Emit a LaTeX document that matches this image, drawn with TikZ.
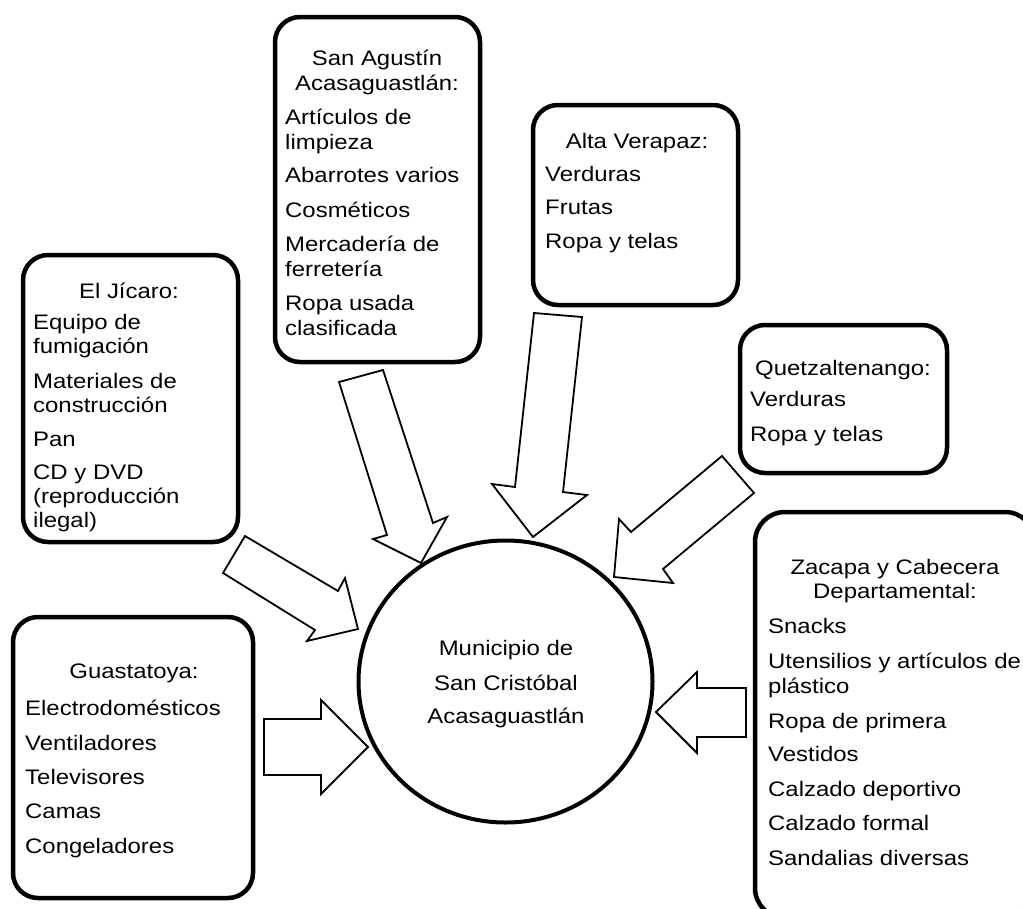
\documentclass[tikz,border=0pt]{standalone}
\usepackage{fontspec}
\setmainfont{Liberation Sans}[FakeStretch=1.14]
\usetikzlibrary{shapes.geometric}
\begin{document}
\begin{tikzpicture}[x=1pt,y=-1pt,
  every node/.style={font=\fontsize{21}{24}\selectfont},
  box/.style={draw, line width=4.5pt, rounded corners=25pt, inner sep=0pt},
  blockarrow/.style={draw, line width=1.8pt, fill=white, line join=miter},
  hub/.style={draw, ellipse, line width=4pt, inner sep=0pt},
  item/.style={anchor=base west, inner sep=0pt},
  ttl/.style={anchor=base, inner sep=0pt}]
\useasboundingbox (0,0) rectangle (1023,908);
\clip (0,0) rectangle (1023,908);

% boxes
\node[box, minimum width=205, minimum height=345] (sanagustin) at (377.5,189.5) {};
\node[box, minimum width=205, minimum height=200] (altaverapaz) at (635.5,205) {};
\node[box, minimum width=207, minimum height=148] (quetzal) at (843.5,399) {};
\node[box, minimum width=280, minimum height=406, rounded corners=30pt] (zacapa) at (895,715) {};
\node[box, minimum width=240, minimum height=281] (guastatoya) at (133,757.5) {};
\node[box, minimum width=215, minimum height=287] (jicaro) at (130.5,398.5) {};

% block arrows
\draw[blockarrow] (245,536) -- (338,591) -- (345,578) -- (358,629) -- (307,641) -- (315,630) -- (223,573) -- cycle;
\draw[blockarrow] (339,382) -- (383,370) -- (433,523) -- (447,517) -- (421,563) -- (373,539) -- (387,535) -- cycle;
\draw[blockarrow] (534,313) -- (582,317) -- (563,492) -- (587,495) -- (533,537) -- (492,484) -- (515,487) -- cycle;
\draw[blockarrow] (722,456) -- (754,493) -- (663,569) -- (673,583) -- (614,577) -- (619,519) -- (631,532) -- cycle;
\draw[blockarrow] (746,688) -- (697,688) -- (697,672) -- (656,712) -- (697,753) -- (697,737) -- (746,737) -- cycle;
\draw[blockarrow] (264,719) -- (321,719) -- (321,700) -- (368,747) -- (321,794) -- (321,775) -- (264,775) -- cycle;

% hub
\node[hub, minimum width=294, minimum height=282] (hub) at (505.5,681.5) {};
\node[ttl] (hub1) at (506,655) {Municipio de};
\node[ttl] (hub2) at (506,690) {San Cristóbal};
\node[ttl] (hub3) at (506,723) {Acasaguastlán};

% San Agustin
\node[ttl] (sat1) at (377,65) {San Agustín};
\node[ttl] (sat2) at (377,90) {Acasaguastlán:};
\foreach \t/\y [count=\i] in {Artículos de/124, limpieza/149, Abarrotes varios/182, Cosméticos/217, Mercadería de/251, ferretería/276, Ropa usada/310, clasificada/335}
  \node[item] (sa\i) at (285,\y) {\t};

% Alta Verapaz
\node[ttl] (avt) at (637,148) {Alta Verapaz:};
\foreach \t/\y [count=\i] in {Verduras/181, Frutas/214, Ropa y telas/248}
  \node[item] (av\i) at (545,\y) {\t};

% Quetzaltenango
\node[ttl] (qt) at (843,375) {Quetzaltenango:};
\foreach \t/\y [count=\i] in {Verduras/406, Ropa y telas/441}
  \node[item] (q\i) at (750,\y) {\t};

% Zacapa
\node[ttl] (zt1) at (895,574) {Zacapa y Cabecera};
\node[ttl] (zt2) at (895,598) {Departamental:};
\foreach \t/\y [count=\i] in {Snacks/633, Utensilios y artículos de/668, plástico/693, Ropa de primera/728, Vestidos/761, Calzado deportivo/796, Calzado formal/830, Sandalias diversas/865}
  \node[item] (z\i) at (768,\y) {\t};

% Guastatoya
\node[ttl] (gt) at (134,678) {Guastatoya:};
\foreach \t/\y [count=\i] in {Electrodomésticos/715, Ventiladores/750, Televisores/784, Camas/818, Congeladores/853}
  \node[item] (g\i) at (25,\y) {\t};

% El Jicaro
\node[ttl] (jt) at (129,298) {El Jícaro:};
\foreach \t/\y [count=\i] in {Equipo de/329, fumigación/353, Materiales de/388, construcción/412, Pan/446, CD y DVD/479, {(reproducción}/503, {ilegal)}/527}
  \node[item] (j\i) at (33,\y) {\t};
\end{tikzpicture}
\end{document}
